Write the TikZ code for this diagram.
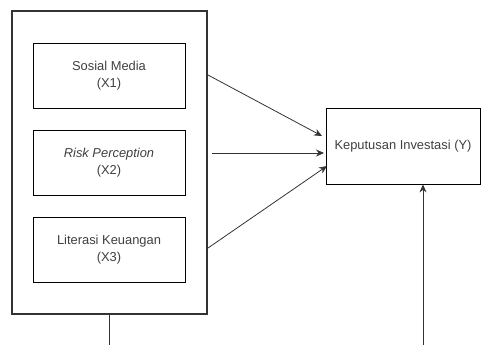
\documentclass[tikz,border=0pt]{standalone}
\usepackage{fontspec}
\setmainfont{Liberation Sans}
\usetikzlibrary{positioning}
\usetikzlibrary{arrows.meta}
\tikzset{
        varnode/.style={align=center,inner sep=0pt},
        % Outer group box
        node_group/.style={varnode, rectangle, draw=black!80, line width=2.6pt, fill=white, minimum width=195bp, minimum height=303bp},
        % Independent variables
        node_indep/.style={varnode, rectangle, draw=black, line width=0.8pt, fill=white, minimum width=152bp, minimum height=65bp},
        % Dependent variable
        node_dep/.style={varnode, rectangle, draw=black, line width=0.8pt, fill=white, minimum width=154bp, minimum height=76bp},
        % Connectors
        link/.style={draw=black!80, line width=0.8pt},
        linkarrow/.style={link, -{Stealth[length=8bp,width=7bp]}}
}

\begin{document}
\begin{tikzpicture}[x=1bp, y=-1bp, font=\fontsize{12.9bp}{16.5bp}\selectfont, text=black!75]
            \useasboundingbox (0,0) rectangle (481,345);
            \node[node_group] (grp) at (109.5,162.5) {};
            \node[node_indep] (x1) at (109,75.5) {Sosial Media\\(X1)};
            \node[node_indep] (x2) at (109,162.5) {\textit{Risk Perception}\\(X2)};
            \node[node_indep] (x3) at (109,249.5) {Literasi Keuangan\\(X3)};
            \node[node_dep] (y) at (403,146) {Keputusan Investasi (Y)};
            % arrow start and end points
            \coordinate (a1) at (208,75);
            \coordinate (a2) at (212,153);
            \coordinate (a3) at (208,248);
            \coordinate (b1) at (322,136);
            \coordinate (b2) at (324,153);
            \coordinate (b3) at (327,166);
            \coordinate (gb) at (109,345);
            \coordinate (yb) at (423,345);
            \draw[linkarrow] (a1) -- (b1);
            \draw[linkarrow] (a2) -- (b2);
            \draw[linkarrow] (a3) -- (b3);
            \draw[link] (grp.south -| gb) -- (gb);
            \draw[linkarrow] (yb) -- (yb |- y.south);
\end{tikzpicture}
\end{document}
